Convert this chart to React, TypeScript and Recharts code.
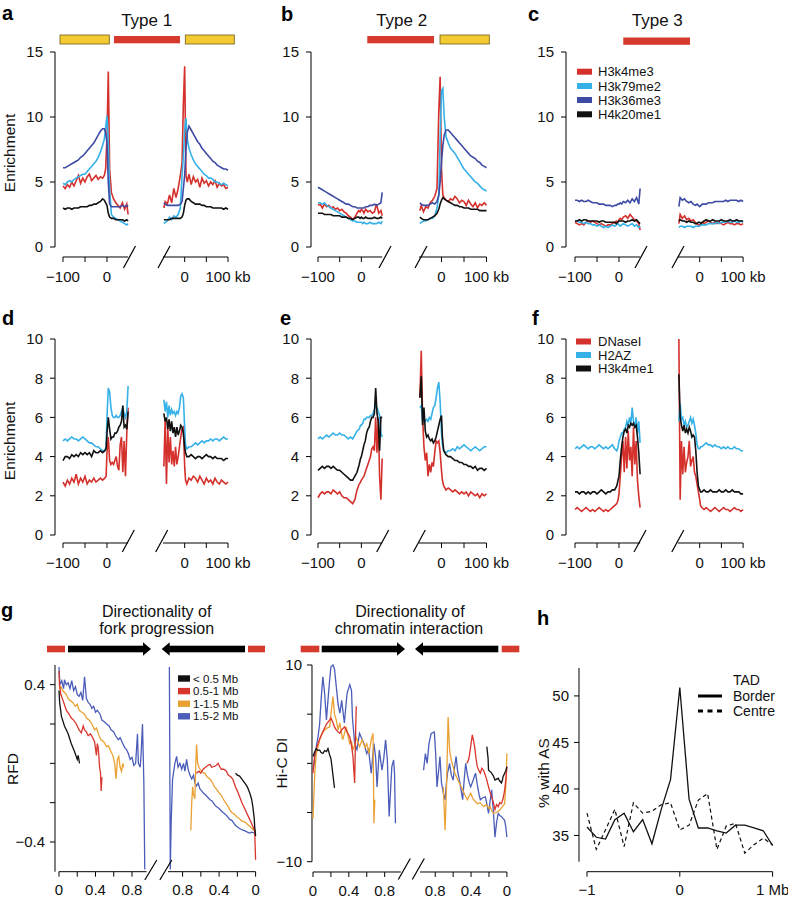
import React from 'react';
import { LineChart, Line, XAxis, YAxis } from 'recharts';

const FONT = '"Liberation Sans", Arial, Helvetica, sans-serif';

const RED = '#d4302c';
const LBLUE = '#36b1e8';
const DBLUE = '#3e4ba5';
const BLACK = '#111111';
const YELLOW = '#f3ca31';
const BAR_RED = '#d63a2c';
const G_BLACK = '#111111';
const G_RED = '#d8352d';
const G_ORANGE = '#eaa133';
const G_BLUE = '#4b5db9';

// ---------------- x grids (kb) ----------------
const XL1 = [-100, -95, -90, -85, -80, -75, -70, -65, -60, -55, -50, -45, -40, -35, -30, -25, -20, -15, -10, -6, -3, 0, 3, 6, 10, 15, 20, 25, 30, 35, 40, 45, 48];
const XR1 = [-48, -45, -40, -35, -30, -25, -20, -15, -10, -6, -3, 0, 3, 6, 10, 15, 20, 25, 30, 35, 40, 45, 50, 55, 60, 65, 70, 75, 80, 85, 90, 95, 100];
const XL2 = [-100, -95, -90, -85, -80, -75, -70, -65, -60, -55, -50, -45, -40, -35, -30, -25, -20, -15, -10, -5, -2, 0, 3, 6, 9, 12, 15, 18, 21, 24, 27, 30, 33, 36, 39, 42, 45, 48];
const XR2 = [-48, -45, -42, -39, -36, -33, -30, -27, -24, -21, -18, -15, -12, -9, -6, -3, 0, 2, 5, 10, 15, 20, 25, 30, 35, 40, 45, 50, 55, 60, 65, 70, 75, 80, 85, 90, 95, 100];

// ---------------- panel a (Type 1) ----------------
const aL_k4 = [4.7, 4.5, 4.8, 4.6, 5.0, 4.7, 5.1, 5.5, 4.9, 5.3, 5.0, 5.4, 5.6, 5.1, 5.3, 5.5, 5.2, 5.4, 5.3, 5.5, 6.0, 8.5, 13.5, 6.0, 4.2, 3.7, 3.4, 3.2, 3.0, 3.4, 2.9, 3.3, 2.5];
const aL_k79 = [4.9, 4.8, 5.0, 5.1, 5.0, 5.2, 5.3, 5.4, 5.5, 5.6, 5.6, 5.8, 6.0, 6.2, 6.4, 6.6, 6.9, 7.3, 7.8, 8.3, 9.2, 10.1, 8.0, 4.5, 2.5, 2.3, 2.2, 2.1, 2.0, 1.9, 1.8, 1.7, 1.8];
const aL_k36 = [6.1, 6.1, 6.2, 6.3, 6.4, 6.5, 6.6, 6.7, 6.9, 7.0, 7.2, 7.4, 7.6, 7.8, 8.0, 8.3, 8.6, 8.9, 9.1, 9.1, 8.8, 8.0, 5.0, 3.3, 3.1, 3.1, 3.1, 3.1, 3.1, 3.2, 3.1, 3.2, 3.1];
const aL_k20 = [3.0, 2.9, 3.0, 3.0, 2.9, 3.0, 3.0, 3.0, 3.1, 3.1, 3.1, 3.1, 3.2, 3.2, 3.3, 3.3, 3.4, 3.5, 3.7, 3.6, 3.4, 3.2, 2.6, 2.3, 2.2, 2.2, 2.1, 2.1, 2.1, 2.1, 2.0, 2.1, 2.0];
const aR_k4 = [3.0, 3.5, 3.3, 4.0, 3.4, 4.5, 3.8, 4.5, 5.5, 6.5, 11.0, 13.9, 5.5, 5.0, 5.6, 4.8, 5.4, 5.0, 5.2, 4.6, 5.3, 4.9, 5.1, 4.7, 5.0, 4.8, 5.1, 4.6, 4.9, 4.7, 4.8, 4.5, 4.6];
const aR_k79 = [1.8, 1.9, 2.0, 2.3, 2.1, 2.4, 2.3, 2.5, 3.0, 5.5, 7.0, 9.0, 9.9, 8.3, 7.6, 7.1, 6.7, 6.4, 6.2, 6.0, 5.8, 5.6, 5.5, 5.3, 5.3, 5.2, 5.0, 5.0, 4.9, 4.8, 4.9, 4.8, 4.7];
const aR_k36 = [3.4, 3.3, 3.2, 3.2, 3.2, 3.2, 3.2, 3.2, 3.3, 3.5, 4.5, 5.5, 7.5, 8.8, 9.3, 9.0, 8.7, 8.4, 8.1, 7.9, 7.6, 7.4, 7.2, 7.0, 6.8, 6.6, 6.5, 6.3, 6.2, 6.1, 6.0, 6.0, 5.9];
const aR_k20 = [2.1, 2.1, 2.1, 2.1, 2.2, 2.2, 2.2, 2.2, 2.2, 2.3, 2.6, 3.2, 3.6, 3.7, 3.7, 3.5, 3.4, 3.3, 3.3, 3.3, 3.2, 3.2, 3.1, 3.1, 3.1, 3.0, 3.0, 3.0, 3.0, 3.0, 2.9, 3.0, 2.9];

// ---------------- panel b (Type 2) ----------------
const bL_k4 = [3.2, 3.3, 3.0, 3.3, 3.1, 3.2, 3.0, 3.1, 2.9, 3.0, 2.8, 2.9, 2.7, 2.6, 2.4, 2.3, 2.1, 2.3, 2.6, 2.8, 2.7, 2.9, 2.8, 2.6, 2.9, 2.7, 2.8, 2.6, 2.7, 3.3, 2.6, 2.8, 2.4];
const bL_k79 = [3.4, 3.4, 3.3, 3.4, 3.2, 3.1, 3.0, 2.9, 2.8, 2.7, 2.6, 2.5, 2.4, 2.3, 2.2, 2.1, 2.0, 2.0, 1.9, 1.9, 1.9, 1.9, 1.8, 1.9, 1.8, 1.8, 1.9, 1.8, 1.8, 1.8, 1.9, 1.8, 2.0];
const bL_k36 = [4.6, 4.5, 4.4, 4.3, 4.2, 4.1, 4.0, 3.9, 3.8, 3.7, 3.6, 3.5, 3.4, 3.3, 3.3, 3.2, 3.1, 3.1, 3.0, 3.0, 3.0, 3.0, 3.0, 3.0, 3.1, 3.1, 3.2, 3.2, 3.3, 3.2, 3.3, 3.4, 4.2];
const bL_k20 = [2.6, 2.6, 2.6, 2.5, 2.5, 2.5, 2.5, 2.4, 2.4, 2.4, 2.4, 2.3, 2.3, 2.3, 2.2, 2.2, 2.1, 2.2, 2.3, 2.3, 2.2, 2.3, 2.2, 2.2, 2.3, 2.2, 2.2, 2.2, 2.3, 2.2, 2.2, 2.3, 2.2];
const bR_k4 = [2.8, 3.2, 2.7, 3.1, 3.0, 3.4, 3.6, 3.9, 4.5, 10.5, 13.1, 6.0, 4.0, 3.8, 3.6, 3.5, 3.7, 3.6, 3.9, 3.7, 3.4, 3.6, 3.5, 3.2, 3.6, 3.3, 3.1, 3.4, 3.0, 3.3, 3.2, 3.4, 3.2];
const bR_k79 = [1.8, 1.9, 2.0, 2.0, 2.1, 2.2, 2.2, 2.4, 3.0, 4.0, 8.5, 12.0, 12.2, 10.0, 8.5, 8.0, 7.6, 7.4, 7.2, 6.9, 6.6, 6.3, 6.0, 5.8, 5.6, 5.4, 5.2, 5.0, 4.9, 4.7, 4.5, 4.4, 4.3];
const bR_k36 = [3.4, 3.3, 3.2, 3.2, 3.2, 3.3, 3.4, 3.3, 3.5, 4.0, 5.0, 6.5, 7.8, 8.6, 9.0, 9.0, 8.8, 8.6, 8.4, 8.2, 8.0, 7.8, 7.6, 7.4, 7.2, 7.0, 6.9, 6.8, 6.6, 6.5, 6.3, 6.2, 6.1];
const bR_k20 = [2.3, 2.2, 2.1, 2.1, 2.1, 2.2, 2.3, 2.4, 2.6, 2.9, 3.3, 3.6, 3.8, 3.7, 3.6, 3.5, 3.4, 3.3, 3.2, 3.2, 3.1, 3.1, 3.0, 3.0, 3.0, 2.9, 2.9, 2.9, 2.9, 2.8, 2.8, 2.8, 2.8];

// ---------------- panel c (Type 3) ----------------
const cL_k4 = [1.9, 1.8, 1.7, 1.8, 1.7, 1.9, 2.0, 1.9, 2.0, 1.9, 1.8, 1.7, 1.8, 1.7, 1.6, 1.7, 1.7, 1.8, 1.9, 2.0, 1.9, 2.1, 2.2, 2.1, 2.3, 2.4, 2.2, 2.5, 2.3, 2.1, 2.0, 1.8, 1.3];
const cL_k79 = [2.0, 2.0, 1.9, 1.9, 1.8, 1.9, 1.8, 1.8, 1.7, 1.7, 1.6, 1.7, 1.6, 1.5, 1.6, 1.5, 1.6, 1.7, 1.6, 1.7, 1.8, 1.7, 1.6, 1.7, 1.8, 1.7, 1.6, 1.7, 1.8, 1.6, 1.7, 1.5, 1.6];
const cL_k36 = [3.6, 3.6, 3.5, 3.6, 3.5, 3.5, 3.6, 3.5, 3.4, 3.4, 3.4, 3.3, 3.3, 3.3, 3.2, 3.2, 3.2, 3.1, 3.2, 3.2, 3.3, 3.3, 3.4, 3.3, 3.5, 3.4, 3.6, 3.4, 3.7, 3.5, 3.8, 3.3, 4.5];
const cL_k20 = [2.0, 2.0, 2.1, 2.0, 2.1, 2.1, 2.0, 2.0, 2.0, 2.0, 2.0, 1.9, 2.0, 2.0, 1.9, 1.9, 1.9, 1.9, 1.9, 1.8, 1.9, 2.0, 2.0, 2.0, 2.0, 1.9, 2.0, 2.0, 2.1, 2.0, 2.1, 1.9, 1.8];
const cR_k4 = [1.8, 2.5, 2.2, 2.4, 2.1, 2.2, 2.0, 2.1, 1.9, 1.8, 1.7, 1.7, 1.8, 1.9, 1.8, 1.9, 2.0, 1.9, 1.8, 1.9, 1.8, 1.9, 1.8, 1.7, 1.8, 1.9, 1.8, 1.8, 1.7, 1.8, 1.8, 1.7, 1.8];
const cR_k79 = [1.5, 1.6, 1.6, 1.5, 1.6, 1.6, 1.6, 1.5, 1.6, 1.6, 1.6, 1.6, 1.7, 1.7, 1.7, 1.7, 1.8, 1.8, 1.8, 1.8, 1.9, 1.8, 1.9, 1.9, 1.9, 2.0, 1.9, 1.9, 2.0, 1.9, 1.9, 2.0, 1.9];
const cR_k36 = [3.1, 3.8, 3.6, 3.7, 3.5, 3.4, 3.5, 3.3, 3.2, 3.3, 3.2, 3.1, 3.2, 3.3, 3.3, 3.3, 3.4, 3.4, 3.4, 3.5, 3.5, 3.5, 3.5, 3.5, 3.6, 3.5, 3.6, 3.6, 3.6, 3.6, 3.5, 3.6, 3.5];
const cR_k20 = [2.0, 2.1, 2.0, 2.0, 1.9, 2.0, 1.9, 1.9, 1.8, 1.8, 1.9, 1.9, 1.8, 1.9, 2.0, 2.1, 2.0, 2.0, 2.1, 2.0, 2.0, 2.0, 2.1, 2.0, 2.0, 2.0, 2.1, 2.0, 2.0, 2.1, 2.0, 2.0, 2.0];

// ---------------- panel d ----------------
const dL_dn = [2.7, 2.5, 2.8, 2.6, 2.9, 2.7, 3.1, 2.6, 2.9, 2.7, 3.0, 2.6, 2.8, 2.7, 2.9, 2.7, 2.8, 2.9, 2.8, 2.9, 3.0, 4.2, 5.0, 3.8, 3.6, 3.7, 3.6, 3.8, 4.0, 3.5, 3.3, 4.6, 5.0, 3.2, 4.8, 3.0, 5.2, 6.5];
const dL_h2 = [4.8, 4.9, 4.8, 4.9, 5.0, 4.9, 4.9, 4.8, 4.9, 5.0, 4.9, 4.8, 4.7, 4.7, 4.6, 4.5, 4.5, 4.4, 4.3, 4.3, 4.5, 6.0, 7.5, 7.3, 6.5, 6.1, 6.0, 6.0, 6.1, 6.0, 6.0, 6.1, 6.3, 6.5, 6.2, 6.0, 6.3, 7.6];
const dL_k1 = [3.8, 4.0, 4.0, 3.9, 4.1, 4.0, 4.1, 4.0, 4.2, 4.1, 4.2, 4.1, 4.2, 4.0, 4.3, 4.2, 4.2, 4.3, 4.2, 4.3, 4.4, 5.2, 6.0, 5.4, 4.9, 5.0, 5.0, 5.2, 5.2, 5.3, 5.5, 5.6, 5.8, 6.6, 5.5, 5.6, 5.4, 6.3];
const dR_dn = [3.5, 5.9, 2.6, 5.5, 3.7, 5.0, 3.6, 4.3, 3.5, 4.5, 3.6, 4.0, 4.5, 5.0, 5.4, 5.5, 3.5, 2.8, 2.6, 2.9, 2.8, 3.0, 2.9, 2.7, 3.0, 2.8, 2.6, 2.9, 2.7, 2.8, 2.6, 2.9, 2.7, 2.6, 2.8, 2.7, 2.6, 2.7];
const dR_h2 = [6.9, 6.3, 6.8, 6.0, 6.6, 6.1, 6.4, 6.2, 6.3, 6.1, 6.3, 6.2, 6.5, 7.1, 7.2, 7.0, 5.5, 4.6, 4.4, 4.5, 4.5, 4.6, 4.7, 4.6, 4.7, 4.8, 4.7, 4.8, 4.8, 4.9, 4.8, 4.9, 4.9, 4.8, 4.9, 5.0, 4.9, 4.9];
const dR_k1 = [6.2, 5.8, 6.0, 5.4, 5.9, 5.3, 5.8, 5.2, 5.5, 5.0, 5.5, 5.1, 5.3, 5.6, 5.5, 5.2, 4.5, 4.2, 4.0, 4.0, 4.1, 4.0, 3.9, 4.0, 4.0, 3.9, 4.0, 4.1, 4.0, 4.0, 3.9, 4.0, 3.9, 3.9, 3.9, 3.8, 3.9, 3.9];

// ---------------- panel e ----------------
const eL_dn = [1.9, 2.1, 2.2, 2.1, 2.2, 2.2, 2.1, 2.3, 2.2, 2.1, 2.2, 2.0, 1.9, 1.9, 1.8, 1.7, 1.6, 1.8, 2.3, 2.6, 2.7, 2.8, 2.9, 3.0, 3.2, 3.4, 3.6, 3.8, 4.0, 4.4, 4.5, 4.3, 6.0, 4.2, 6.0, 3.0, 1.8, 3.9];
const eL_h2 = [4.9, 5.0, 4.9, 5.0, 5.1, 5.0, 5.1, 5.2, 5.1, 5.1, 5.2, 5.1, 5.1, 5.0, 4.9, 5.0, 4.9, 5.1, 5.3, 5.4, 5.6, 5.6, 5.7, 5.9, 5.9, 6.0, 6.0, 6.0, 6.1, 6.1, 6.2, 6.4, 6.6, 6.5, 6.3, 6.1, 5.2, 5.0];
const eL_k1 = [3.3, 3.4, 3.5, 3.4, 3.5, 3.5, 3.4, 3.5, 3.4, 3.3, 3.3, 3.2, 3.1, 3.0, 2.9, 2.8, 2.8, 3.0, 3.2, 3.6, 3.9, 4.0, 4.3, 4.6, 4.8, 5.2, 5.4, 5.5, 5.8, 6.0, 6.0, 6.2, 7.5, 6.2, 5.8, 4.3, 6.0, 6.0];
const eR_dn = [7.0, 9.4, 6.0, 4.5, 3.8, 4.2, 3.0, 3.6, 3.2, 3.7, 3.5, 4.2, 4.8, 4.7, 4.8, 4.2, 3.3, 2.8, 2.5, 2.3, 2.4, 2.3, 2.2, 2.3, 2.2, 2.1, 2.2, 2.1, 2.2, 2.0, 2.2, 2.1, 2.0, 2.1, 1.9, 2.1, 2.0, 2.1];
const eR_h2 = [6.5, 6.6, 5.8, 5.9, 5.8, 5.9, 5.8, 6.0, 5.9, 6.2, 6.5, 6.6, 7.0, 7.5, 7.8, 6.8, 5.2, 4.6, 4.3, 4.2, 4.3, 4.3, 4.4, 4.3, 4.5, 4.4, 4.5, 4.6, 4.5, 4.4, 4.3, 4.4, 4.5, 4.4, 4.3, 4.4, 4.5, 4.5];
const eR_k1 = [7.0, 8.1, 5.6, 6.5, 5.3, 5.0, 5.1, 4.9, 4.8, 4.9, 4.7, 4.8, 5.0, 5.3, 5.6, 5.9, 6.1, 5.0, 4.3, 4.1, 4.0, 4.0, 3.9, 3.8, 3.8, 3.7, 3.7, 3.6, 3.6, 3.5, 3.5, 3.4, 3.5, 3.3, 3.4, 3.4, 3.3, 3.4];

// ---------------- panel f ----------------
const fL_dn = [1.3, 1.4, 1.3, 1.2, 1.3, 1.4, 1.3, 1.2, 1.3, 1.2, 1.3, 1.4, 1.3, 1.2, 1.3, 1.2, 1.3, 1.4, 1.5, 1.6, 1.8, 2.1, 3.0, 4.0, 4.8, 3.2, 5.0, 3.4, 5.3, 3.8, 4.5, 3.0, 5.5, 3.6, 4.8, 2.8, 2.0, 1.4];
const fL_h2 = [4.4, 4.5, 4.4, 4.5, 4.6, 4.5, 4.4, 4.5, 4.5, 4.4, 4.5, 4.6, 4.5, 4.4, 4.5, 4.4, 4.5, 4.6, 4.4, 4.3, 4.5, 4.8, 5.0, 5.2, 5.2, 5.4, 5.5, 5.8, 5.6, 6.0, 5.7, 6.5, 5.8, 5.5, 6.0, 5.2, 5.8, 4.7];
const fL_k1 = [2.2, 2.2, 2.1, 2.2, 2.2, 2.1, 2.2, 2.1, 2.2, 2.2, 2.1, 2.2, 2.3, 2.2, 2.1, 2.2, 2.2, 2.3, 2.3, 2.5, 2.8, 3.0, 3.8, 4.5, 5.0, 5.3, 5.4, 5.2, 5.6, 5.5, 5.7, 5.6, 5.7, 5.5, 5.6, 5.0, 4.2, 3.1];
const fR_dn = [10.0, 1.8, 4.8, 3.1, 4.5, 3.2, 3.7, 4.0, 4.8, 3.5, 3.8, 4.0, 3.2, 3.0, 2.6, 2.2, 1.8, 1.5, 1.4, 1.3, 1.4, 1.3, 1.2, 1.3, 1.4, 1.3, 1.2, 1.3, 1.4, 1.3, 1.3, 1.2, 1.3, 1.4, 1.3, 1.3, 1.2, 1.3];
const fR_h2 = [5.8, 6.7, 5.9, 6.0, 5.6, 5.8, 5.5, 5.6, 5.8, 6.0, 5.7, 5.9, 5.6, 5.2, 4.6, 4.4, 4.4, 4.5, 4.5, 4.6, 4.7, 4.6, 4.6, 4.5, 4.6, 4.5, 4.5, 4.4, 4.5, 4.4, 4.5, 4.4, 4.4, 4.5, 4.4, 4.4, 4.3, 4.3];
const fR_k1 = [8.2, 6.0, 5.6, 5.3, 5.6, 5.2, 5.4, 5.2, 5.5, 5.3, 5.0, 5.1, 5.0, 4.3, 3.2, 2.5, 2.3, 2.2, 2.2, 2.3, 2.2, 2.2, 2.3, 2.2, 2.2, 2.2, 2.3, 2.2, 2.2, 2.3, 2.2, 2.2, 2.3, 2.2, 2.2, 2.2, 2.1, 2.1];

// ---------------- panel g: RFD (distance Mb, RFD) ----------------
const rfdL_lt05 = [[0, 0.37], [0.007, 0.31], [0.026, 0.24], [0.06, 0.19], [0.1, 0.15], [0.135, 0.1], [0.17, 0.06], [0.2, 0.02], [0.21, 0.04], [0.225, 0.0]];
const rfdL_05_1 = [[0, 0.47], [0.005, 0.4], [0.02, 0.35], [0.044, 0.32], [0.08, 0.27], [0.11, 0.25], [0.135, 0.23], [0.16, 0.22], [0.19, 0.2], [0.22, 0.17], [0.245, 0.155], [0.265, 0.19], [0.28, 0.17], [0.3, 0.16], [0.32, 0.14], [0.345, 0.15], [0.37, 0.13], [0.39, 0.11], [0.41, 0.04], [0.42, 0.1], [0.43, 0.08], [0.445, -0.02], [0.455, -0.05], [0.462, -0.14], [0.47, -0.07]];
const rfdL_1_15 = [[0, 0.38], [0.02, 0.39], [0.04, 0.37], [0.06, 0.36], [0.08, 0.35], [0.1, 0.33], [0.12, 0.32], [0.15, 0.31], [0.18, 0.29], [0.2, 0.3], [0.22, 0.27], [0.25, 0.26], [0.28, 0.25], [0.3, 0.23], [0.33, 0.22], [0.36, 0.2], [0.39, 0.17], [0.41, 0.18], [0.44, 0.14], [0.46, 0.12], [0.49, 0.11], [0.52, 0.085], [0.54, 0.09], [0.57, 0.06], [0.59, 0.04], [0.61, 0.0], [0.625, -0.08], [0.64, 0.02], [0.655, 0.035], [0.67, -0.02], [0.685, -0.04], [0.7, 0.0], [0.71, -0.02]];
const rfdL_15_2 = [[0, 0.49], [0.01, 0.4], [0.03, 0.42], [0.05, 0.38], [0.06, 0.425], [0.08, 0.4], [0.1, 0.41], [0.12, 0.38], [0.14, 0.42], [0.16, 0.37], [0.18, 0.39], [0.2, 0.35], [0.22, 0.34], [0.24, 0.36], [0.26, 0.32], [0.28, 0.44], [0.3, 0.33], [0.32, 0.31], [0.34, 0.3], [0.36, 0.28], [0.38, 0.29], [0.4, 0.26], [0.42, 0.27], [0.45, 0.25], [0.47, 0.22], [0.5, 0.21], [0.52, 0.2], [0.55, 0.19], [0.57, 0.17], [0.6, 0.16], [0.62, 0.14], [0.65, 0.12], [0.67, 0.13], [0.7, 0.1], [0.72, 0.08], [0.74, 0.07], [0.76, 0.05], [0.78, 0.02], [0.8, 0.03], [0.82, -0.01], [0.84, 0.0], [0.86, 0.15], [0.87, 0.0], [0.89, -0.02], [0.9, 0.05], [0.915, 0.2], [0.93, -0.1], [0.94, -0.54]];
const rfdR_lt05 = [[0.22, -0.05], [0.2, -0.06], [0.175, -0.065], [0.15, -0.08], [0.12, -0.1], [0.09, -0.12], [0.065, -0.15], [0.045, -0.18], [0.03, -0.22], [0.015, -0.28], [0.01, -0.32], [0, -0.37]];
const rfdR_05_1 = [[0.65, -0.05], [0.62, -0.04], [0.6, -0.05], [0.575, -0.03], [0.55, -0.02], [0.52, -0.01], [0.5, -0.005], [0.48, -0.02], [0.45, -0.015], [0.43, -0.01], [0.41, 0.0], [0.39, -0.02], [0.375, -0.03], [0.35, -0.03], [0.32, -0.04], [0.3, -0.06], [0.27, -0.07], [0.25, -0.08], [0.22, -0.12], [0.2, -0.14], [0.175, -0.17], [0.15, -0.2], [0.12, -0.23], [0.1, -0.25], [0.07, -0.28], [0.05, -0.3], [0.03, -0.32], [0.01, -0.345], [0, -0.49]];
const rfdR_1_15 = [[0.71, -0.34], [0.7, -0.2], [0.69, -0.12], [0.68, -0.16], [0.665, -0.18], [0.655, 0.0], [0.647, 0.095], [0.635, 0.0], [0.62, -0.02], [0.61, -0.03], [0.59, -0.04], [0.57, -0.05], [0.556, -0.05], [0.53, -0.07], [0.5, -0.08], [0.47, -0.1], [0.45, -0.12], [0.43, -0.13], [0.4, -0.15], [0.38, -0.16], [0.356, -0.18], [0.33, -0.2], [0.3, -0.22], [0.284, -0.235], [0.26, -0.25], [0.23, -0.26], [0.21, -0.27], [0.18, -0.28], [0.16, -0.29], [0.138, -0.295], [0.11, -0.3], [0.09, -0.31], [0.065, -0.32], [0.04, -0.33], [0.02, -0.34], [0.01, -0.34], [0, -0.35]];
const rfdR_15_2 = [[0.945, 0.49], [0.935, -0.54], [0.925, -0.3], [0.91, -0.08], [0.9, -0.05], [0.885, 0.0], [0.865, 0.035], [0.85, -0.02], [0.83, 0.0], [0.81, -0.03], [0.79, 0.0], [0.775, -0.04], [0.756, 0.02], [0.74, -0.03], [0.72, -0.06], [0.7, -0.08], [0.68, -0.06], [0.665, -0.1], [0.647, -0.115], [0.63, -0.1], [0.61, -0.13], [0.59, -0.14], [0.575, -0.15], [0.55, -0.16], [0.53, -0.17], [0.5, -0.185], [0.48, -0.19], [0.45, -0.21], [0.43, -0.22], [0.4, -0.23], [0.38, -0.24], [0.356, -0.25], [0.33, -0.26], [0.31, -0.27], [0.284, -0.285], [0.26, -0.29], [0.23, -0.31], [0.21, -0.32], [0.18, -0.33], [0.16, -0.335], [0.138, -0.34], [0.11, -0.345], [0.09, -0.35], [0.065, -0.355], [0.04, -0.35], [0.01, -0.355]];

// ---------------- panel g: Hi-C DI ----------------
const hicL_lt05 = [[0, 0.7], [0.02, 1.2], [0.037, 1.5], [0.055, 1.3], [0.074, 1.36], [0.09, 1.1], [0.11, 1.0], [0.13, 1.3], [0.15, 1.2], [0.167, 1.5], [0.186, 0.85], [0.2, 0.5], [0.21, -0.2], [0.22, -1.0], [0.24, -2.5]];
const hicL_05_1 = [[0, -1.0], [0.02, 1.0], [0.04, 1.6], [0.056, 2.0], [0.08, 2.6], [0.11, 3.2], [0.13, 3.6], [0.15, 4.0], [0.167, 4.2], [0.185, 4.4], [0.2, 4.6], [0.22, 4.2], [0.24, 3.7], [0.26, 3.4], [0.28, 3.2], [0.3, 3.05], [0.32, 3.4], [0.353, 3.7], [0.38, 3.2], [0.41, 2.7], [0.43, 1.8], [0.446, 0.7], [0.465, -2.0], [0.476, 3.4], [0.483, 5.8]];
const hicL_1_15 = [[0, -5.6], [0.02, -1.0], [0.037, 1.0], [0.06, 1.8], [0.074, 2.4], [0.1, 3.0], [0.13, 3.4], [0.16, 3.6], [0.186, 3.7], [0.2, 5.0], [0.223, 6.8], [0.24, 5.0], [0.26, 4.4], [0.28, 3.4], [0.3, 4.1], [0.33, 2.4], [0.35, 3.0], [0.37, 3.7], [0.39, 2.8], [0.41, 2.0], [0.43, 2.2], [0.446, 1.36], [0.47, 2.0], [0.48, 2.7], [0.5, 2.2], [0.52, 1.7], [0.55, 2.4], [0.58, 1.6], [0.6, 2.0], [0.625, 1.0], [0.65, 2.4], [0.67, 3.05], [0.68, -6.1], [0.69, -3.7]];
const hicL_15_2 = [[0, -0.7], [0.02, 0.5], [0.037, 1.7], [0.056, 2.7], [0.074, 4.0], [0.09, 6.4], [0.11, 8.8], [0.13, 7.1], [0.15, 4.4], [0.167, 6.4], [0.186, 8.5], [0.2, 9.8], [0.223, 10.0], [0.24, 9.6], [0.26, 7.8], [0.28, 6.0], [0.3, 5.1], [0.32, 6.4], [0.35, 4.1], [0.38, 7.1], [0.41, 8.0], [0.43, 7.4], [0.44, 4.7], [0.465, 2.0], [0.49, 1.4], [0.52, 3.05], [0.54, 2.6], [0.57, 2.0], [0.6, 1.0], [0.62, 1.4], [0.65, -1.0], [0.68, 2.0], [0.7, 0.5], [0.715, -2.4], [0.74, 1.36], [0.77, -0.7], [0.79, 0.5], [0.81, 2.4], [0.83, 0.34], [0.85, -5.4], [0.88, -0.34], [0.9, 0.34], [0.91, -1.0], [0.92, -6.1]];
const hicR_lt05 = [[0.224, 1.7], [0.21, 0.5], [0.205, -0.7], [0.19, -0.8], [0.17, -1.0], [0.15, -1.3], [0.133, -1.7], [0.115, -1.6], [0.097, -1.5], [0.08, -1.8], [0.061, -2.0], [0.05, -1.7], [0.043, -1.36], [0.025, -1.0], [0.01, -0.7], [0, -0.34]];
const hicR_05_1 = [[0.447, 0], [0.43, 0.3], [0.42, 0.7], [0.4, 2.0], [0.386, 2.9], [0.37, 2.2], [0.36, 1.7], [0.345, 0.5], [0.33, -0.34], [0.31, -0.8], [0.296, -1.0], [0.28, -0.5], [0.26, -0.7], [0.23, -1.5], [0.205, -2.4], [0.19, -2.9], [0.17, -3.4], [0.15, -4.0], [0.133, -4.7], [0.115, -4.2], [0.097, -4.4], [0.08, -4.0], [0.061, -4.1], [0.04, -3.5], [0.025, -2.7], [0.01, -1.5], [0, -0.34]];
const hicR_1_15 = [[0.71, -2.4], [0.69, -6.8], [0.674, -2.4], [0.656, 4.7], [0.64, 1.36], [0.62, 0.3], [0.6, -0.34], [0.58, -1.0], [0.548, -1.7], [0.52, -2.2], [0.494, -2.7], [0.47, -3.2], [0.44, -3.7], [0.42, -3.3], [0.404, -3.05], [0.38, -3.6], [0.35, -3.9], [0.33, -4.1], [0.3, -4.0], [0.26, -4.4], [0.23, -4.2], [0.2, -4.6], [0.188, -4.4], [0.17, -4.8], [0.15, -5.1], [0.12, -5.0], [0.1, -4.9], [0.08, -4.75], [0.05, -4.4], [0.025, -4.1], [0.01, -2.0], [0, 1.0]];
const hicR_15_2 = [[0.93, -0.7], [0.91, 1.0], [0.89, 0], [0.87, 2.0], [0.845, 3.05], [0.81, 3.2], [0.795, 1.0], [0.78, -2.4], [0.765, -1.0], [0.747, 0.7], [0.73, -2.0], [0.71, -3.0], [0.69, -3.7], [0.675, -2.0], [0.663, -1.0], [0.65, -0.5], [0.64, 0], [0.62, -1.2], [0.6, -1.7], [0.585, -0.5], [0.567, 0.7], [0.55, -0.8], [0.53, -1.7], [0.51, -2.8], [0.494, -3.7], [0.475, -1.5], [0.46, 0], [0.44, -1.2], [0.42, -2.0], [0.404, -2.4], [0.38, -1.8], [0.35, -1.0], [0.33, -2.2], [0.31, -3.2], [0.296, -3.7], [0.27, -3.5], [0.24, -3.4], [0.22, -4.3], [0.205, -5.1], [0.19, -4.0], [0.17, -2.7], [0.15, -5.0], [0.133, -7.5], [0.115, -6.0], [0.097, -5.1], [0.08, -5.3], [0.061, -5.4], [0.045, -5.6], [0.025, -5.8], [0.012, -6.5], [0, -7.5]];

// ---------------- panel h ----------------
const hX = [-1, -0.9, -0.8, -0.7, -0.6, -0.5, -0.4, -0.3, -0.2, -0.1, 0, 0.1, 0.2, 0.3, 0.4, 0.5, 0.6, 0.7, 0.8, 0.9, 1];
const hBorder = [35.9, 34.8, 34.6, 36.7, 37.4, 35.4, 36.7, 34.1, 37.8, 41.0, 50.9, 38.9, 35.8, 35.8, 35.5, 35.25, 36.1, 36.1, 35.8, 35.5, 33.9];
const hCentre = [37.4, 33.5, 35.6, 37.8, 33.8, 38.5, 37.4, 37.6, 38.3, 38.5, 35.6, 36.1, 38.8, 39.5, 33.5, 36.0, 36.3, 33.1, 34.0, 34.7, 34.0];

// ---------------- labels ----------------
const HISTONE_LABELS = ['H3k4me3', 'H3k79me2', 'H3k36me3', 'H4k20me1'];
const CHROM_LABELS = ['DNaseI', 'H2AZ', 'H3k4me1'];
const SIZE_LABELS = ['< 0.5 Mb', '0.5-1 Mb', '1-1.5 Mb', '1.5-2 Mb'];
const TYPE_TITLES = ['Type 1', 'Type 2', 'Type 3'];

// ---------------- helpers ----------------
type Row = { [k: string]: number };
function table(xs: number[], cols: { [k: string]: number[] }): Row[] {
  return xs.map((x, i) => {
    const r: Row = { x };
    Object.keys(cols).forEach((k) => { r[k] = cols[k][i]; });
    return r;
  });
}
const pts = (a: number[][]): Row[] => a.map(([x, y]) => ({ x, y }));

type Series = { id: string; dataKey: string; color: string; width?: number; dash?: string; data?: Row[] };

const TICK_STYLE = { fill: '#111', fontSize: 15, fontFamily: FONT };

function Plot(p: {
  x0: number; x1: number; yTop: number; yBot: number;
  xDomain: [number, number]; yDomain: [number, number];
  reversed?: boolean; data?: Row[]; series: Series[];
  ticks: number[]; fmt: (v: number) => string; tickMargin: number;
}) {
  const MX = 26, MY = 10, XH = 34;
  const W = p.x1 - p.x0 + 2 * MX;
  const H = p.yBot - p.yTop + MY + XH;
  return (
    <div style={{ position: 'absolute', left: p.x0 - MX, top: p.yTop - MY, width: W, height: H }}>
      <LineChart width={W} height={H} data={p.data} margin={{ top: MY, right: MX, bottom: 0, left: MX }}>
        <XAxis type="number" dataKey="x" domain={p.xDomain} ticks={p.ticks} interval={0} reversed={p.reversed}
          height={XH} tickSize={5} tickMargin={p.tickMargin}
          axisLine={{ stroke: '#000', strokeWidth: 1 }} tickLine={{ stroke: '#000', strokeWidth: 1 }}
          tick={TICK_STYLE} tickFormatter={p.fmt} />
        <YAxis type="number" domain={p.yDomain} hide />
        {p.series.map((s) => (
          <Line key={s.id} type="linear" dataKey={s.dataKey} data={s.data} stroke={s.color}
            strokeWidth={s.width ?? 1.6} strokeDasharray={s.dash} dot={false} activeDot={false}
            isAnimationActive={false} />
        ))}
      </LineChart>
    </div>
  );
}

function YAx(p: { axisX: number; yTop: number; yBot: number; domain: [number, number]; ticks: number[]; fmt: (v: number) => string; data: Row[]; tickMargin: number }) {
  const YW = 60, MY = 10;
  const W = YW + 8;
  const H = p.yBot - p.yTop + 2 * MY;
  return (
    <div style={{ position: 'absolute', left: p.axisX - YW, top: p.yTop - MY, width: W, height: H }}>
      <LineChart width={W} height={H} data={p.data} margin={{ top: MY, bottom: MY, left: 0, right: 6 }}>
        <XAxis type="number" dataKey="x" hide domain={['dataMin', 'dataMax']} />
        <YAxis type="number" domain={p.domain} ticks={p.ticks} interval={0} width={YW} allowDataOverflow
          tickSize={5} tickMargin={p.tickMargin}
          axisLine={{ stroke: '#000', strokeWidth: 1 }} tickLine={{ stroke: '#000', strokeWidth: 1 }}
          tick={TICK_STYLE} tickFormatter={p.fmt} />
      </LineChart>
    </div>
  );
}

// ---------------- layout ----------------
const COLS = [
  { axisX: 55, L: [62.7, 127.8], R: [163.3, 228.3] },
  { axisX: 310.7, L: [318.3, 382.5], R: [419.2, 486.7] },
  { axisX: 565.7, L: [575, 640.1], R: [677.6, 742.7] },
];
const ROWS = [
  { yTop: 52, yBot: 257, dom: [-0.77, 15] as [number, number], axBot: 247, axDom: [0, 15] as [number, number], ticks: [0, 5, 10, 15] },
  { yTop: 339, yBot: 543, dom: [-0.408, 10] as [number, number], axBot: 535, axDom: [0, 10] as [number, number], ticks: [0, 2, 4, 6, 8, 10] },
];

const fmtL = (v: number) => (v === -100 ? '\u2212100' : v === 0 ? '0' : '');
const fmtR = (v: number) => (v === 0 ? '0' : v === 100 ? '100 kb' : '');

const row1Series: Series[] = [
  { id: 'k4', dataKey: 'k4', color: RED },
  { id: 'k79', dataKey: 'k79', color: LBLUE },
  { id: 'k36', dataKey: 'k36', color: DBLUE },
  { id: 'k20', dataKey: 'k20', color: BLACK },
];
const row2Series: Series[] = [
  { id: 'dn', dataKey: 'dn', color: RED },
  { id: 'h2', dataKey: 'h2', color: LBLUE },
  { id: 'k1', dataKey: 'k1', color: BLACK },
];

const row1Data = [
  [table(XL1, { k4: aL_k4, k79: aL_k79, k36: aL_k36, k20: aL_k20 }), table(XR1, { k4: aR_k4, k79: aR_k79, k36: aR_k36, k20: aR_k20 })],
  [table(XL1, { k4: bL_k4, k79: bL_k79, k36: bL_k36, k20: bL_k20 }), table(XR1, { k4: bR_k4, k79: bR_k79, k36: bR_k36, k20: bR_k20 })],
  [table(XL1, { k4: cL_k4, k79: cL_k79, k36: cL_k36, k20: cL_k20 }), table(XR1, { k4: cR_k4, k79: cR_k79, k36: cR_k36, k20: cR_k20 })],
];
const row2Data = [
  [table(XL2, { dn: dL_dn, h2: dL_h2, k1: dL_k1 }), table(XR2, { dn: dR_dn, h2: dR_h2, k1: dR_k1 })],
  [table(XL2, { dn: eL_dn, h2: eL_h2, k1: eL_k1 }), table(XR2, { dn: eR_dn, h2: eR_h2, k1: eR_k1 })],
  [table(XL2, { dn: fL_dn, h2: fL_h2, k1: fL_k1 }), table(XR2, { dn: fR_dn, h2: fR_h2, k1: fR_k1 })],
];

function Broken({ ci, ri }: { ci: number; ri: number }) {
  const c = COLS[ci];
  const r = ROWS[ri];
  const [dL, dR] = ri === 0 ? row1Data[ci] : row2Data[ci];
  const series = ri === 0 ? row1Series : row2Series;
  return (
    <>
      <YAx axisX={c.axisX} yTop={r.yTop} yBot={r.axBot} domain={r.axDom} ticks={r.ticks} fmt={(v) => String(v)} data={dL} tickMargin={7} />
      <Plot x0={c.L[0]} x1={c.L[1]} yTop={r.yTop} yBot={r.yBot} xDomain={[-100, 48]} yDomain={r.dom}
        data={dL} series={series} ticks={[-100, -50, 0]} fmt={fmtL} tickMargin={9} />
      <Plot x0={c.R[0]} x1={c.R[1]} yTop={r.yTop} yBot={r.yBot} xDomain={[-50, 100]} yDomain={r.dom}
        data={dR} series={series} ticks={[0, 50, 100]} fmt={fmtR} tickMargin={9} />
    </>
  );
}

const gSizeColors = [G_BLACK, G_RED, G_ORANGE, G_BLUE];
const gxFmt = (v: number) => (v === 0 ? '0' : v === 0.4 ? '0.4' : v === 0.8 ? '0.8' : '');
const gTicks = [0, 0.2, 0.4, 0.6, 0.8];

function sizeSeries(sets: number[][][]): Series[] {
  const order = [3, 2, 1, 0];
  return order.map((i) => ({ id: 's' + i, dataKey: 'y', color: gSizeColors[i], width: 1.3, data: pts(sets[i]) }));
}

function PanelG() {
  const rfdY: [number, number] = [-0.551, 0.5];
  const hicY: [number, number] = [-11.05, 10];
  return (
    <>
      <YAx axisX={55} yTop={665.3} yBot={872} domain={rfdY} ticks={[-0.4, -0.2, 0, 0.2, 0.4]}
        fmt={(v) => (v === 0.4 ? '0.4' : v === -0.4 ? '\u22120.4' : '')} data={pts(rfdL_15_2)} tickMargin={5} />
      <Plot x0={59.3} x1={146.9} yTop={665.3} yBot={872} xDomain={[0, 0.96]} yDomain={rfdY}
        series={sizeSeries([rfdL_lt05, rfdL_05_1, rfdL_1_15, rfdL_15_2])} ticks={gTicks} fmt={gxFmt} tickMargin={8} />
      <Plot x0={168.4} x1={256} yTop={665.3} yBot={872} xDomain={[0, 0.96]} yDomain={rfdY} reversed
        series={sizeSeries([rfdR_lt05, rfdR_05_1, rfdR_1_15, rfdR_15_2])} ticks={gTicks} fmt={gxFmt} tickMargin={8} />

      <YAx axisX={311.7} yTop={665} yBot={861.7} domain={[-10, 10]} ticks={[-10, -5, 0, 5, 10]}
        fmt={(v) => (v === 10 ? '10' : v === -10 ? '\u221210' : '')} data={pts(hicL_15_2)} tickMargin={5} />
      <Plot x0={313.3} x1={401.1} yTop={665} yBot={872} xDomain={[0, 0.98]} yDomain={hicY}
        series={sizeSeries([hicL_lt05, hicL_05_1, hicL_1_15, hicL_15_2])} ticks={gTicks} fmt={gxFmt} tickMargin={8} />
      <Plot x0={420.4} x1={507.3} yTop={665} yBot={872} xDomain={[0, 0.97]} yDomain={hicY} reversed
        series={sizeSeries([hicR_lt05, hicR_05_1, hicR_1_15, hicR_15_2])} ticks={gTicks} fmt={gxFmt} tickMargin={8} />
    </>
  );
}

const hData = table(hX, { border: hBorder, centre: hCentre });

function PanelH() {
  return (
    <>
      <YAx axisX={579.3} yTop={668.3} yBot={862} domain={[32.18, 53]} ticks={[35, 40, 45, 50]} fmt={(v) => String(v)} data={hData} tickMargin={5} />
      <Plot x0={586.7} x1={772.3} yTop={668.3} yBot={872} xDomain={[-1, 1]} yDomain={[31.1, 53]} data={hData}
        series={[
          { id: 'centre', dataKey: 'centre', color: '#111', width: 1.2, dash: '4 3' },
          { id: 'border', dataKey: 'border', color: '#111', width: 1.3 },
        ]}
        ticks={[-1, 0, 1]} fmt={(v) => (v === -1 ? '\u22121' : v === 0 ? '0' : '1 Mb')} tickMargin={8} />
    </>
  );
}

// ---------------- decorations ----------------
function Slash({ cx, cy, h = 22 }: { cx: number; cy: number; h?: number }) {
  return <line x1={cx - 6} y1={cy + h / 2} x2={cx + 6} y2={cy - h / 2} stroke="#000" strokeWidth={1.2} />;
}

function ArrowRight({ x0, x1, y }: { x0: number; x1: number; y: number }) {
  return (
    <>
      <rect x={x0} y={y - 3.3} width={x1 - 7.5 - x0} height={6.6} fill="#000" />
      <polygon points={`${x1 - 8},${y - 6.8} ${x1},${y} ${x1 - 8},${y + 6.8}`} fill="#000" />
    </>
  );
}
function ArrowLeft({ x0, x1, y }: { x0: number; x1: number; y: number }) {
  return (
    <>
      <polygon points={`${x0 + 8},${y - 6.8} ${x0},${y} ${x0 + 8},${y + 6.8}`} fill="#000" />
      <rect x={x0 + 7.5} y={y - 3.3} width={x1 - x0 - 7.5} height={6.6} fill="#000" />
    </>
  );
}

function Overlay() {
  const t = { fontFamily: FONT, fill: '#111' } as const;
  const histColors = [RED, LBLUE, DBLUE, BLACK];
  const chromColors = [RED, LBLUE, BLACK];
  const cLegY = [71.7, 86, 100, 114.3];
  const fLegY = [341.5, 355, 368.5];
  const gLegY = [678.5, 691.1, 703.7, 716.3];
  return (
    <svg width={788} height={903} style={{ position: 'absolute', left: 0, top: 0, pointerEvents: 'none' }}>
      <g style={{ fontFamily: FONT, fontWeight: 'bold', fontSize: 20 }} fill="#000">
        <text x={2} y={20}>a</text>
        <text x={281} y={21}>b</text>
        <text x={528} y={21}>c</text>
        <text x={2} y={325}>d</text>
        <text x={280} y={325}>e</text>
        <text x={532} y={325}>f</text>
        <text x={1} y={617}>g</text>
        <text x={537} y={625}>h</text>
      </g>
      {TYPE_TITLES.map((s, i) => (
        <text key={s} x={[146.7, 401.7, 657.3][i]} y={25.5} textAnchor="middle" fontSize={17} {...t}>{s}</text>
      ))}
      <rect x={60} y={35} width={49.3} height={9} fill={YELLOW} stroke="#6d5c1c" strokeWidth={0.8} />
      <rect x={114} y={36} width={66} height={7.3} fill={BAR_RED} />
      <rect x={185.3} y={35} width={49} height={9} fill={YELLOW} stroke="#6d5c1c" strokeWidth={0.8} />
      <rect x={367.3} y={36} width={66.7} height={7.3} fill={BAR_RED} />
      <rect x={440} y={35} width={49.3} height={9} fill={YELLOW} stroke="#6d5c1c" strokeWidth={0.8} />
      <rect x={623.3} y={37.5} width={66.7} height={7.3} fill={BAR_RED} />

      <Slash cx={129.5} cy={257} /><Slash cx={164} cy={257} />
      <Slash cx={385} cy={257} /><Slash cx={421} cy={257} />
      <Slash cx={641} cy={257} /><Slash cx={678} cy={257} />
      <Slash cx={128.3} cy={541} /><Slash cx={161.7} cy={541} />
      <Slash cx={382.7} cy={541} /><Slash cx={419.3} cy={541} />
      <Slash cx={640} cy={541} /><Slash cx={677.8} cy={541} />
      <Slash cx={150.8} cy={870} h={20} /><Slash cx={165.8} cy={870} h={20} />
      <Slash cx={404.3} cy={869} h={21} /><Slash cx={418.3} cy={869} h={21} />

      <text transform="translate(15,153) rotate(-90)" textAnchor="middle" fontSize={15.5} {...t}>Enrichment</text>
      <text transform="translate(15,441) rotate(-90)" textAnchor="middle" fontSize={15.5} {...t}>Enrichment</text>
      <text transform="translate(18,769) rotate(-90)" textAnchor="middle" fontSize={15.5} {...t}>RFD</text>
      <text transform="translate(287,763) rotate(-90)" textAnchor="middle" fontSize={15.5} {...t}>Hi-C DI</text>
      <text transform="translate(549,773) rotate(-90)" textAnchor="middle" fontSize={15.5} {...t}>% with AS</text>

      {HISTONE_LABELS.map((s, i) => (
        <g key={s}>
          <rect x={577} y={cLegY[i] - 3} width={15} height={6} fill={histColors[i]} />
          <text x={598} y={cLegY[i] + 4.6} fontSize={13} {...t}>{s}</text>
        </g>
      ))}
      {CHROM_LABELS.map((s, i) => (
        <g key={s}>
          <rect x={576} y={fLegY[i] - 3} width={15} height={6} fill={chromColors[i]} />
          <text x={598} y={fLegY[i] + 4.6} fontSize={13} {...t}>{s}</text>
        </g>
      ))}

      <text x={156.7} y={616.5} textAnchor="middle" fontSize={16} {...t}>Directionality of</text>
      <text x={156.7} y={634} textAnchor="middle" fontSize={16} {...t}>fork progression</text>
      <text x={410} y={616.5} textAnchor="middle" fontSize={16} {...t}>Directionality of</text>
      <text x={409} y={634} textAnchor="middle" fontSize={16} {...t}>chromatin interaction</text>

      <rect x={47} y={645.7} width={18} height={6.6} fill={BAR_RED} />
      <ArrowRight x0={68} x1={151} y={649} />
      <ArrowLeft x0={161.7} x1={245} y={649} />
      <rect x={248} y={645.7} width={17} height={6.6} fill={BAR_RED} />
      <rect x={300.7} y={645.7} width={18.6} height={6.6} fill={BAR_RED} />
      <ArrowRight x0={321.7} x1={405} y={649} />
      <ArrowLeft x0={415} x1={498.3} y={649} />
      <rect x={501.7} y={645.7} width={17.6} height={6.6} fill={BAR_RED} />

      {SIZE_LABELS.map((s, i) => (
        <g key={s}>
          <rect x={178} y={gLegY[i] - 3.2} width={12} height={6.4} fill={gSizeColors[i]} />
          <text x={193} y={gLegY[i] + 4.1} fontSize={11.5} {...t}>{s}</text>
        </g>
      ))}

      <text x={733} y={685} fontSize={14} {...t}>TAD</text>
      <line x1={698} y1={696} x2={722} y2={696} stroke="#000" strokeWidth={3} />
      <text x={733} y={701} fontSize={14} {...t}>Border</text>
      <line x1={698} y1={711} x2={722} y2={711} stroke="#000" strokeWidth={3} strokeDasharray="5 4.5" />
      <text x={733} y={716} fontSize={14} {...t}>Centre</text>
    </svg>
  );
}

export default function App() {
  return (
    <div style={{ position: 'absolute', left: 0, top: 0, width: 788, height: 903, background: '#fff', overflow: 'hidden', fontFamily: FONT }}>
      {[0, 1, 2].map((ci) => <Broken key={'r1' + ci} ci={ci} ri={0} />)}
      {[0, 1, 2].map((ci) => <Broken key={'r2' + ci} ci={ci} ri={1} />)}
      <PanelG />
      <PanelH />
      <Overlay />
    </div>
  );
}
